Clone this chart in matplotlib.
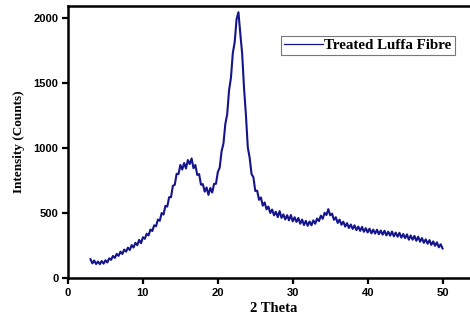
import numpy as np
import matplotlib
matplotlib.use('Agg')
import matplotlib.pyplot as plt

# XRD scan of treated luffa fibre at 0.25 deg steps
START_ANGLE = 3.0
STEP = 0.25
intensity = [
    145, 113, 135, 108, 127, 107, 131, 111, 137, 120, 152, 140, 170, 155, 186, 171,
    203, 185, 219, 203, 234, 216, 254, 235, 271, 253, 294, 268, 314, 302, 341, 328,
    373, 362, 406, 398, 450, 441, 500, 489, 555, 550, 622, 622, 710, 717, 802, 800,
    870, 835, 885, 843, 908, 877, 920, 845, 870, 793, 800, 718, 723, 665, 697, 640,
    693, 658, 725, 725, 815, 850, 975, 1035, 1185, 1260, 1445, 1540, 1730, 1815, 1990, 2045,
    1880, 1725, 1460, 1255, 1005, 925, 800, 775, 670, 672, 602, 620, 557, 582, 529, 550,
    501, 527, 483, 510, 469, 515, 463, 490, 451, 484, 444, 485, 436, 468, 432, 462,
    418, 450, 408, 440, 402, 435, 406, 444, 418, 458, 438, 480, 456, 502, 485, 530,
    483, 496, 448, 468, 424, 450, 410, 434, 396, 423, 385, 412, 378, 406, 369, 396,
    363, 394, 356, 384, 351, 380, 344, 373, 342, 372, 337, 366, 334, 364, 328, 357,
    326, 358, 321, 350, 318, 348, 311, 339, 307, 336, 295, 328, 295, 324, 287, 318,
    280, 308, 271, 298, 264, 292, 255, 282, 248, 275, 237, 260, 228,
]
two_theta = START_ANGLE + STEP * np.arange(len(intensity))

x_ticks = [0, 10, 20, 30, 40, 50]
y_ticks = [0, 500, 1000, 1500, 2000]

fig = plt.figure(figsize=(4.7, 3.2), dpi=100)
# the right edge of the frame runs past the picture, as in the reference
ax = fig.add_axes([0.1447, 0.131, 0.8766, 0.85])

ax.plot(two_theta, intensity, color='#14148c', lw=1.5, label='Treated Luffa Fibre')

ax.set_xlim(0, 55)
ax.set_ylim(0, 2092)
ax.set_xticks(x_ticks)
ax.set_yticks(y_ticks)

for side in ['left', 'bottom', 'top', 'right']:
    ax.spines[side].set_linewidth(1.8)
ax.spines['right'].set_visible(False)
ax.tick_params(direction='out', length=4, width=1.6, pad=3, top=False, right=False)
for lbl in ax.get_xticklabels() + ax.get_yticklabels():
    lbl.set_fontfamily('Liberation Sans')
    lbl.set_fontweight('bold')
    lbl.set_fontsize(8)

ax.set_xlabel('2 Theta', family='Liberation Serif', fontweight='bold', fontsize=10.5, labelpad=3)
ax.set_ylabel('Intensity (Counts)', family='Liberation Serif', fontweight='bold', fontsize=9.5, labelpad=6)

leg = ax.legend(loc='upper right', bbox_to_anchor=(0.983, 0.9125), bbox_transform=fig.transFigure,
                fancybox=False, handlelength=2.6, handletextpad=0.1, borderpad=0.2,
                prop={'family': 'Liberation Serif', 'weight': 'bold', 'size': 10.8})
leg.get_frame().set_edgecolor('#555555')
leg.get_frame().set_linewidth(0.8)
leg.get_lines()[0].set_linewidth(0.9)

fig.savefig('out.png', dpi=100)
